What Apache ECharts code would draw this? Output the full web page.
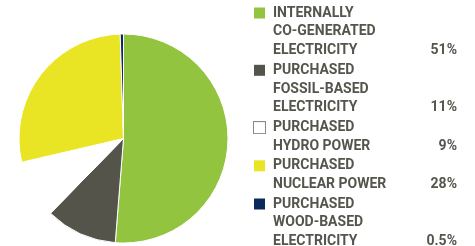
<!DOCTYPE html>
<html>
<head>
<meta charset="utf-8">
<style>
    html, body { margin: 0; padding: 0; background: #fff; }
    #chart { width: 475px; height: 246px; }
</style>
<script src="https://cdn.jsdelivr.net/npm/echarts@6/dist/echarts.min.js"></script>
</head>
<body>
<div id="chart"></div>
<script>
    // legend text, split in lines as in the source
    var labels = [
        ['INTERNALLY', 'CO-GENERATED', 'ELECTRICITY'],
        ['PURCHASED', 'FOSSIL-BASED', 'ELECTRICITY'],
        ['PURCHASED', 'HYDRO POWER'],
        ['PURCHASED', 'NUCLEAR POWER'],
        ['PURCHASED', 'WOOD-BASED', 'ELECTRICITY']
    ];
    var values = [51, 11, 9, 28, 0.5];
    var pctLabels = ['51%', '11%', '9%', '28%', '0.5%'];
    var colors = ['#93c43f', '#54544a', '#ffffff', '#e9e524', '#0b2a5c'];

    var names = labels.map(function (l) { return l.join(' '); });
    var LH = 18.8;

    var font = { fontSize: 14, fontWeight: 'bold', color: '#55554d', fontFamily: 'Roboto', lineHeight: LH };
    var rich = {
        n: Object.assign({ width: 144 }, font),
        p: Object.assign({ width: 40, align: 'right' }, font),
        s: { width: 19, height: 11 }
    };
    colors.forEach(function (c, i) {
        rich['c' + i] = {
            width: 11, height: 11, backgroundColor: c,
            borderColor: i === 2 ? '#8a8a84' : c, borderWidth: i === 2 ? 1 : 0
        };
    });
    rich.g = { width: 8 };

    // one legend per entry so that multi-line items stack correctly
    var legends = [];
    var line = 0;
    names.forEach(function (n, i) {
        legends.push({
            orient: 'vertical',
            left: 248,
            top: 6 + line * 19.1,
            itemWidth: 0,
            itemHeight: 0,
            padding: 0,
            selectedMode: false,
            data: [n],
            formatter: function () {
                var lines = labels[i];
                return lines.map(function (t, k) {
                    var head = k === 0 ? '{c' + i + '| }{g|}' : '{s|}';
                    var tail = k === lines.length - 1 ? '{p|' + pctLabels[i] + '}' : '';
                    return head + '{n|' + t + '}' + tail;
                }).join('\n');
            },
            textStyle: { rich: rich, padding: 0 }
        });
        line += labels[i].length;
    });

    var chart = echarts.init(document.getElementById('chart'));
    chart.setOption({
        animation: false,
        color: colors,
        legend: legends,
        series: [{
            type: 'pie',
            center: [123.5, 138.5],
            radius: 104.5,
            startAngle: 90,
            clockwise: true,
            label: { show: false },
            labelLine: { show: false },
            itemStyle: { borderColor: '#ffffff', borderWidth: 1 },
            data: names.map(function (n, i) {
                return { name: n, value: values[i] };
            })
        }]
    });
</script>
</body>
</html>
